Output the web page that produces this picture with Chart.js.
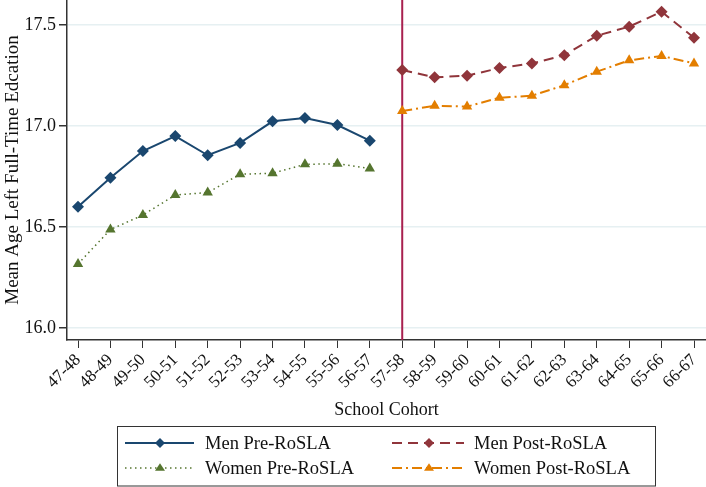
<!DOCTYPE html>
<html>
<head>
<meta charset="utf-8">
<script src="https://cdn.jsdelivr.net/npm/chart.js@4.4.1/dist/chart.umd.min.js"></script>
<style>
html,body{margin:0;padding:0;background:#fff;}
#wrap{width:706px;height:487px;position:relative;}
</style>
</head>
<body>
<div id="wrap"><canvas id="c" width="706" height="487"></canvas></div>
<script>
const cohorts = ["47-48","48-49","49-50","50-51","51-52","52-53","53-54","54-55","55-56","56-57",
                 "57-58","58-59","59-60","60-61","61-62","62-63","63-64","64-65","65-66","66-67"];
const menPre    = [16.60,16.744,16.876,16.950,16.855,16.916,17.023,17.040,17.005,16.927];
const womenPre  = [16.317,16.487,16.559,16.658,16.670,16.761,16.766,16.810,16.813,16.789];
const menPost   = [17.277,17.241,17.249,17.287,17.310,17.350,17.447,17.492,17.566,17.437];
const womenPost = [17.074,17.100,17.096,17.140,17.150,17.202,17.269,17.325,17.347,17.310];
const yTicks = [16.0,16.5,17.0,17.5];
const reformIndex = 10; // 57-58

const C = {navy:'#1a476f', maroon:'#90353b', green:'#55752f', orange:'#e37e00', red:'#a8204f'};
const FONT = '"Liberation Serif","Times New Roman",serif';

function pts(vals, start){ return vals.map((v,i)=>({x:start+i, y:v})); }

const series = [
  {label:'Men Pre-RoSLA', data:pts(menPre,0), color:C.navy, dash:[], width:2, style:'rectRot', r:6},
  {label:'Women Pre-RoSLA', data:pts(womenPre,0), color:C.green, dash:[1.5,3.5], width:1.5, style:'triangle', r:6},
  {label:'Men Post-RoSLA', data:pts(menPost,10), color:C.maroon, dash:[10,6], width:2, style:'rectRot', r:6},
  {label:'Women Post-RoSLA', data:pts(womenPost,10), color:C.orange, dash:[10,4,2,4], width:2, style:'triangle', r:6}
];

const vlinePlugin = {
  id:'vline',
  beforeDatasetsDraw(chart){
    const {ctx, chartArea:a, scales:{x}} = chart;
    const px = x.getPixelForValue(reformIndex);
    ctx.save();
    ctx.strokeStyle = C.red; ctx.lineWidth = 2;
    ctx.beginPath(); ctx.moveTo(px, a.top); ctx.lineTo(px, a.bottom); ctx.stroke();
    ctx.restore();
  }
};

function drawMarker(ctx, style, x, y, r, color){
  ctx.save(); ctx.fillStyle = color; ctx.beginPath();
  if(style==='rectRot'){
    ctx.moveTo(x, y-r); ctx.lineTo(x+r, y); ctx.lineTo(x, y+r); ctx.lineTo(x-r, y);
  } else {
    const h = r*1.5;
    ctx.moveTo(x, y-h*0.62); ctx.lineTo(x+r, y+h*0.38); ctx.lineTo(x-r, y+h*0.38);
  }
  ctx.closePath(); ctx.fill(); ctx.restore();
}

const legendPlugin = {
  id:'boxLegend',
  afterDraw(chart){
    const ctx = chart.ctx;
    const box = {l:117.5, t:426.5, r:655.5, b:486};
    ctx.save();
    ctx.strokeStyle = '#333'; ctx.lineWidth = 1;
    ctx.strokeRect(box.l, box.t, box.r-box.l, box.b-box.t);
    const order = [0,2,1,3];
    const cols = [{x0:125,x1:194,m:160,t:205},{x0:392,x1:464,m:429,t:474}];
    const rows = [443,468];
    order.forEach((si,k)=>{
      const s = series[si];
      const c = cols[k%2], y = rows[Math.floor(k/2)];
      ctx.save();
      ctx.strokeStyle = s.color; ctx.lineWidth = s.width; ctx.setLineDash(s.dash);
      ctx.beginPath(); ctx.moveTo(c.x0, y); ctx.lineTo(c.x1, y); ctx.stroke();
      ctx.restore();
      drawMarker(ctx, s.style, c.m, y, 5, s.color);
      ctx.fillStyle = '#111'; ctx.font = '18.5px '+FONT; ctx.textBaseline='middle'; ctx.textAlign='left';
      ctx.fillText(s.label, c.t, y+1);
    });
    ctx.restore();
  }
};

new Chart(document.getElementById('c'), {
  type:'line',
  data:{
    datasets: series.map(s=>({
      label:s.label, data:s.data, borderColor:s.color, backgroundColor:s.color,
      borderWidth:s.width, borderDash:s.dash, pointStyle:s.style, pointRadius:s.r,
      pointBackgroundColor:s.color, pointBorderColor:s.color, pointBorderWidth:0,
      tension:0, fill:false
    }))
  },
  options:{
    responsive:false, animation:false, devicePixelRatio:1,
    layout:{autoPadding:false, padding:{top:0,right:0,bottom:64,left:0}},
    plugins:{legend:{display:false}, tooltip:{enabled:false}},
    scales:{
      x:{
        type:'linear', min:-0.34, max:19.37,
        afterBuildTicks(scale){ scale.ticks = cohorts.map((_,i)=>({value:i})); },
        afterFit(scale){ scale.height = 83; scale.paddingLeft = 0; scale.paddingRight = 0; },
        ticks:{autoSkip:false, minRotation:45, maxRotation:45, color:'#111',
               font:{family:FONT,size:17}, padding:2,
               callback:(v)=>cohorts[v]},
        grid:{drawOnChartArea:false, tickColor:'#333', tickLength:8, tickWidth:1},
        border:{color:'#333', width:1.5},
        title:{display:true, text:'School Cohort', color:'#111', font:{family:FONT,size:18}, padding:{top:0,bottom:2}}
      },
      y:{
        min:15.94, max:17.624,
        afterBuildTicks(scale){ scale.ticks = yTicks.map(v=>({value:v})); },
        afterFit(scale){ scale.width = 67; scale.paddingTop = 0; scale.paddingBottom = 0; },
        ticks:{color:'#111', font:{family:FONT,size:18}, padding:3, callback:(v)=>v.toFixed(1)},
        grid:{color:'#e6f0f2', lineWidth:1.5, tickColor:'#333', tickLength:8},
        border:{color:'#333', width:1.5},
        title:{display:true, text:'Mean Age Left Full-Time Edcation', color:'#111', font:{family:FONT,size:19}, padding:{top:2,bottom:0}}
      }
    }
  },
  plugins:[vlinePlugin, legendPlugin]
});
</script>
</body>
</html>
